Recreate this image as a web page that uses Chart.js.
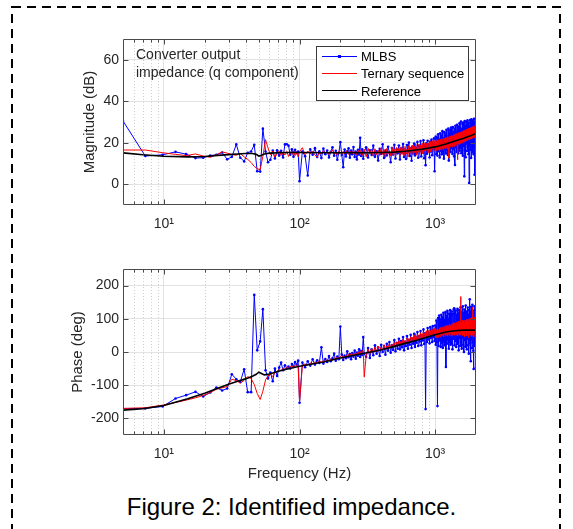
<!DOCTYPE html>
<html>
<head>
<meta charset="utf-8">
<script src="https://cdn.jsdelivr.net/npm/chart.js@4.4.1/dist/chart.umd.min.js"></script>
<style>
  html,body{margin:0;padding:0;background:#fff;}
  body{width:573px;height:529px;overflow:hidden;position:relative;font-family:"Liberation Sans",Arial,Helvetica,sans-serif;color:#262626;}
  canvas{position:absolute;left:0;}
  #frame{position:absolute;left:0;top:0;}
  #legend{position:absolute;left:316px;top:46px;width:151px;height:53px;border:1px solid #3a3a3a;background:#fff;}
  .lgLine{position:absolute;left:5px;width:35px;height:0;}
  .lgDot{position:absolute;width:3px;height:3px;background:#0000ff;}
  .lgText{position:absolute;left:44px;font-size:13px;line-height:17px;height:17px;white-space:nowrap;color:#000;}
  #note{position:absolute;left:136px;top:44.5px;font-size:14px;line-height:18.5px;color:#262626;white-space:nowrap;}
  #caption{position:absolute;left:0;width:583px;text-align:center;top:493px;font-size:24px;line-height:28px;color:#000;white-space:nowrap;}
</style>
</head>
<body>
<svg id="frame" width="573" height="529"><rect x="12" y="7" width="548" height="600" fill="none" stroke="#000" stroke-width="2" stroke-dasharray="9 6"/></svg>
<canvas id="cMag" width="573" height="245" style="top:0px"></canvas>
<canvas id="cPh" width="573" height="245" style="top:245px"></canvas>
<div id="legend"></div>
<div id="note"></div>
<div id="caption"></div>
<script>
// ---------------- DATA ----------------
const freq = [
  5, 7.3, 9.8, 12.2, 14.6, 17.1, 19.5, 22, 24.4, 26.9,
  29.3, 31.7, 34.2, 36.6, 39.1, 41.5, 44, 46.4, 48.8, 51.3,
  53.7, 56.2, 58.6, 61, 63.5, 65.9, 68.4, 70.8, 73.2, 75.7,
  78.1, 80.6, 83, 85.4, 87.9, 90.3, 92.8, 95.2, 97.7, 100.1,
  105, 110, 115, 120, 125, 130, 135, 140, 145, 150,
  155, 160, 165, 170, 175, 180, 185, 190, 195, 200,
  205, 210, 215, 220, 225, 230, 235, 240, 245, 250,
  255, 260, 265, 270, 275, 280, 285, 290, 295, 300,
  310, 320, 330, 340, 350, 360, 370, 380, 390, 400,
  410, 420, 430, 440, 450, 460, 470, 480, 490, 500,
  510, 520, 530, 540, 550, 560, 570, 580, 590, 600,
  610, 620, 630, 640, 650, 660, 670, 680, 690, 700,
  710, 720, 730, 740, 750, 760, 770, 780, 790, 800,
  810, 820, 830, 840, 850, 860, 870, 880, 890, 900,
  910, 920, 930, 940, 950, 960, 970, 980, 990, 1000,
  1010, 1020, 1030, 1040, 1050, 1060, 1070, 1080, 1090, 1100,
  1110, 1120, 1130, 1140, 1150, 1160, 1170, 1180, 1190, 1200,
  1210, 1220, 1230, 1240, 1250, 1260, 1270, 1280, 1290, 1300,
  1310, 1320, 1330, 1340, 1350, 1360, 1370, 1380, 1390, 1400,
  1410, 1420, 1430, 1440, 1450, 1460, 1470, 1480, 1490, 1500,
  1510, 1520, 1530, 1540, 1550, 1560, 1570, 1580, 1590, 1600,
  1610, 1620, 1630, 1640, 1650, 1660, 1670, 1680, 1690, 1700,
  1710, 1720, 1730, 1740, 1750, 1760, 1770, 1780, 1790, 1800,
  1810, 1820, 1830, 1840, 1850, 1860, 1870, 1880, 1890, 1900,
  1910, 1920, 1930, 1940, 1950, 1960, 1970, 1980, 1990, 2000
];

const mlbsMag = [
  30.5, 13.6, 14.2, 15.6, 14.5, 12.6, 12.8, 13.8, 14.2, 15.3,
  12.0, 13.2, 19.2, 12.8, 11.0, 15.2, 15.8, 19.0, 6.3, 6.1,
  26.8, 15.8, 10.6, 11.8, 16.2, 12.4, 16.4, 13.8, 16.1, 12.9,
  19.2, 19.3, 18.6, 14.2, 16.9, 13.2, 16.6, 15.1, 15.8, 1.5,
  15.8, 13.5, 4.2, 16.8, 14.2, 17.4, 13.1, 15.9, 12.6, 17.2,
  14.5, 16.3, 12.9, 15.6, 17.8, 13.7, 16.1, 11.8, 15.2, 20.3,
  14.1, 8.2, 16.7, 13.4, 15.9, 17.3, 12.8, 16.2, 14.4, 17.9,
  13.1, 15.7, 11.9, 16.6, 14.3, 22.4, 13.6, 16.8, 12.3, 15.5,
  17.8, 12.9, 16.4, 14.1, 18.6, 13.2, 15.9, 11.4, 17.1, 14.6,
  19.3, 12.7, 16.2, 13.9, 18.1, 15.0, 10.6, 17.5, 14.3, 19.0,
  12.4, 16.8, 14.9, 18.7, 11.9, 17.2, 15.3, 19.4, 13.1, 16.7,
  12.2, 18.9, 15.5, 20.1, 13.6, 17.4, 11.3, 18.2, 14.8, 19.6,
  13.9, 17.7, 15.2, 20.4, 12.8, 18.4, 16.0, 20.8, 13.4, 17.9,
  15.1, 21.2, 12.5, 18.6, 9.2, 19.7, 14.7, 21.0, 16.3, 19.1,
  12.9, 20.6, 15.8, 21.5, 14.0, 19.8, 16.9, 22.1, 6.3, 19.4,
  23.0, 14.6, 22.4, 13.8, 24.1, 15.9, 21.6, 12.9, 24.6, 16.2,
  23.5, 14.4, 25.6, 15.8, 22.2, 12.3, 25.1, 16.9, 23.9, 14.8,
  26.2, 16.8, 23.0, 14.1, 26.8, 11.4, 24.5, 16.1, 26.1, 15.5,
  27.3, 17.5, 24.1, 14.6, 27.6, 16.9, 25.3, 13.5, 26.9, 9.3,
  28.2, 18.0, 24.8, 15.6, 28.7, 17.2, 26.0, 14.9, 27.8, 18.4,
  29.4, 16.2, 27.1, 17.6, 30.2, 15.0, 26.5, 19.2, 29.1, 13.7,
  29.7, 18.6, 26.8, 3.8, 30.5, 16.4, 28.0, 13.0, 30.1, 19.5,
  27.4, 16.0, 30.8, 18.0, 28.6, 14.5, 29.7, 0.6, 27.8, 19.0,
  31.0, 16.6, 29.0, 12.7, 31.3, 19.8, 28.3, 15.4, 30.7, 20.5,
  29.5, 14.5, 31.5, 18.3, 4.6, 30.2, 21.0, 31.6, 16.4, 28.0
];

const ternMag = [
  16.5, 16.5, 15.2, 14.4, 13.8, 14.6, 13.6, 13.0, 14.2, 15.6,
  15.0, 14.3, 14.0, 14.8, 13.2, 12.0, 10.5, 8.6, 7.5, 7.0,
  13.5, 21.5, 17.5, 14.2, 15.9, 13.1, 14.7, 16.0, 13.9, 15.3,
  14.1, 15.8, 13.4, 15.5, 14.4, 16.1, 13.8, 15.0, 13.3, 15.6,
  17.6, 14.2, 16.0, 14.7, 15.9, 14.1, 13.0, 15.4, 14.6, 16.1,
  14.9, 15.6, 14.3, 15.8, 16.5, 14.8, 15.2, 14.0, 16.0, 15.3,
  14.5, 15.9, 14.7, 16.2, 15.0, 14.4, 16.1, 15.2, 14.6, 16.3,
  14.9, 15.7, 14.2, 16.4, 15.1, 14.5, 16.6, 13.9, 15.8, 16.9,
  13.2, 17.4, 14.6, 16.9, 13.5, 17.1, 14.2, 16.5, 13.8, 17.6,
  14.4, 16.8, 12.9, 17.3, 14.7, 16.2, 13.6, 18.0, 14.1, 16.9,
  13.4, 17.8, 15.0, 17.2, 13.7, 18.1, 14.3, 17.5, 13.9, 18.3,
  14.8, 17.0, 13.2, 18.6, 15.1, 17.7, 13.8, 18.9, 14.6, 18.2,
  15.3, 19.1, 14.0, 18.5, 15.6, 19.4, 14.4, 18.8, 15.9, 19.7,
  14.7, 19.2, 16.1, 20.0, 15.0, 19.6, 16.4, 20.3, 15.3, 19.9,
  16.7, 20.6, 15.6, 20.2, 17.0, 21.0, 15.9, 20.5, 17.3, 21.3,
  16.0, 20.8, 16.4, 21.2, 16.7, 21.5, 16.2, 21.3, 17.0, 21.7,
  16.6, 22.0, 17.1, 21.6, 16.9, 22.3, 17.5, 22.1, 17.2, 22.6,
  17.8, 22.4, 17.0, 23.0, 18.1, 12.6, 22.8, 18.3, 23.3, 17.9,
  23.1, 18.5, 23.6, 18.0, 23.2, 18.9, 24.0, 18.3, 23.8, 19.2,
  24.3, 18.7, 23.9, 19.5, 24.6, 11.8, 24.2, 19.8, 24.9, 19.1,
  24.5, 20.0, 25.1, 19.6, 24.8, 20.4, 25.5, 19.9, 25.0, 20.6,
  25.8, 20.2, 25.3, 21.0, 26.1, 20.5, 25.7, 21.2, 26.4, 20.8,
  25.9, 21.5, 26.7, 21.1, 26.2, 21.8, 27.0, 21.4, 26.6, 22.0,
  27.2, 21.7, 26.8, 22.3, 27.5, 21.9, 27.1, 22.6, 27.8, 22.2,
  27.3, 22.8, 28.0, 22.4, 27.6, 23.0, 28.3, 22.7, 27.9, 23.2
];

const mlbsPhase = [
  -170, -170, -164, -140, -130, -120, -134, -122, -107, -116,
  -110, -67, -82, -90, -52, -121, -121, 172, 5, 32,
  129, -55, -80, -62, -88, -50, -72, -47, -32, -55,
  -40, -48, -44, -50, -36, -42, -30, -38, -26, -153,
  -32, -46, -28, -41, -22, -38, -25, -33, 14, -35,
  -21, -30, -12, -28, -19, -5, -26, -14, -22, 77,
  -8, -24, -11, -19, 2, -16, -6, -22, -3, -14,
  4, -20, -2, -11, 8, -15, 3, -9, 45, -6,
  -15, 12, -18, 8, -10, 20, -5, 14, -12, 22,
  0, 18, -8, 25, 4, 30, -2, 21, 6, 36,
  2, 28, 10, 40, 8, 33, 14, 45, 5, 30,
  18, 48, 10, 37, 22, 52, 12, 41, 25, 55,
  15, 44, 28, 60, 18, 47, 32, 63, 20, 50,
  35, 68, 24, 56, -172, 45, 30, 72, 38, 58,
  26, 75, 42, 62, 30, 78, 45, 65, 33, 80,
  22, 95, 30, -163, 102, 18, 110, 35, 98, 15,
  112, 28, 104, 12, 118, 32, 96, 20, 120, -45,
  108, 25, 124, 38, 100, 10, 115, 30, 126, 22,
  110, 26, 122, 8, 114, 40, 128, 132, 20, 118,
  34, 125, 15, 112, 38, 130, 24, 116, 5, 127,
  42, 110, 18, 135, 30, 120, 10, 114, 44, 138,
  22, 118, 0, 128, 36, 108, 16, 140, 28, 122,
  8, 115, 40, 134, 20, 112, -5, 126, 35, 159,
  26, 120, -28, 136, 38, 106, 12, 142, 30, 116,
  4, -51, 124, 42, 138, 18, 112, -50, 130, 46
];

const ternPhase = [
  -170, -168, -160, -152, -145, -138, -131, -122, -112, -108,
  -104, -82, -86, -94, -85, -74, -80, -98, -125, -143,
  -118, -84, -72, -66, -74, -62, -58, -53, -56, -49,
  -52, -46, -48, -44, -45, -41, -43, -40, -42, -150,
  -40, -36, -41, -33, -36, -29, -34, -27, -31, -25,
  -30, -22, -27, -20, -25, -17, -22, -15, -20, -13,
  -19, -11, -17, -9, -15, -7, -13, -5, -11, -3,
  -10, -2, -8, 0, -7, 2, -6, 4, 3, -75,
  -12, 8, -6, 12, -2, 15, 1, 18, 4, 14,
  6, 22, 8, 18, 10, 26, 12, 24, 14, 28,
  15, 30, 18, 34, 20, 32, 22, 38, 24, 36,
  26, 42, 27, 40, 30, 46, 31, 44, 33, 50,
  34, 48, 36, 54, 38, 52, 40, 58, 41, 55,
  43, 60, 44, 58, 46, 64, 47, 62, 49, 66,
  50, 64, 51, 70, 53, 68, 54, 72, 56, 70,
  42, 66, 47, 70, 44, 68, 50, 72, 46, 74,
  48, 76, 52, 73, 47, 78, 55, 75, 50, 80,
  52, 78, 48, 82, 55, 77, 50, 84, 56, 79,
  49, 85, 54, 80, 51, 87, 56, 82, 50, 88,
  57, 84, 52, 90, 55, 86, 48, 92, 56, 85,
  50, 93, 56, 167, 52, 88, 58, 95, 49, 90,
  57, 94, 52, 89, 46, 96, 58, 91, 53, 98,
  49, 92, 59, 99, 53, 94, 44, 100, 57, 95,
  51, 102, 60, 96, 47, 104, 55, 97, 50, 135,
  58, 99, 45, 105, 56, 100, 50, 106, 59, 102
];

const refFreq  = [5, 7, 10, 15, 20, 25, 30, 35, 40, 45, 48, 50, 52, 55, 60, 70, 80, 100, 150, 200, 300, 400, 500, 600, 700, 800, 1000, 1200, 1400, 1600, 1800, 2000];
const refMag   = [15.1, 14.2, 13.5, 13.2, 13.4, 13.9, 14.3, 14.6, 14.8, 14.8, 14.4, 13.6, 13.9, 14.6, 15.0, 15.2, 15.3, 15.3, 15.2, 15.2, 15.2, 15.3, 15.5, 15.9, 16.4, 16.9, 18.0, 19.4, 20.8, 22.0, 23.2, 24.5];
const refPhase = [-175, -171, -161, -141, -124, -109, -97, -88, -81, -73, -67, -61, -64, -69, -66, -58, -52, -43, -30, -18, -4, 6, 17, 26, 33, 40, 52, 60, 64, 66, 66, 66];

const xTickValues = [10, 100, 1000];
const xTickLabels = ['10\u00B9', '10\u00B2', '10\u00B3'];
const xMinorGrid  = [6, 7, 8, 9, 20, 30, 40, 50, 60, 70, 80, 90, 200, 300, 400, 500, 600, 700, 800, 900];
const magTicks = [0, 20, 40, 60];
const magTickLabels = ['0', '20', '40', '60'];
const phaseTicks = [-200, -100, 0, 100, 200];
const phaseTickLabels = ['-200', '-100', '0', '100', '200'];
const legendLabels = ['MLBS', 'Ternary sequence', 'Reference'];
const seriesColors = ['#0000ff', '#ff0000', '#000000'];
const noteLines = ['Converter output', 'impedance (q component)'];
const captionText = 'Figure 2: Identified impedance.';

// ---------------- RENDER ----------------
Chart.defaults.font.family = '"Liberation Sans", Arial, Helvetica, sans-serif';
Chart.defaults.color = '#262626';

const matlabAxes = {
  id: 'matlabAxes',
  beforeDatasetsDraw(chart) {
    const ctx = chart.ctx, a = chart.chartArea, x = chart.scales.x;
    ctx.save();
    ctx.strokeStyle = '#cfcfcf';
    ctx.lineWidth = 1;
    ctx.setLineDash([1, 2]);
    for (const v of xMinorGrid) {
      const p = Math.round(x.getPixelForValue(v)) + 0.5;
      ctx.beginPath(); ctx.moveTo(p, a.top); ctx.lineTo(p, a.bottom); ctx.stroke();
    }
    ctx.restore();
  },
  afterDatasetsDraw(chart) {
    const ctx = chart.ctx, a = chart.chartArea, x = chart.scales.x, y = chart.scales.y;
    const L = Math.round(a.left) + 0.5, R = Math.round(a.right) - 0.5;
    const T = Math.round(a.top) + 0.5, B = Math.round(a.bottom) - 0.5;
    ctx.save();
    ctx.strokeStyle = '#4a4a4a';
    ctx.lineWidth = 1;
    ctx.beginPath();
    ctx.rect(L, T, R - L, B - T);
    for (const v of xTickValues) {
      const p = Math.round(x.getPixelForValue(v)) + 0.5;
      ctx.moveTo(p, B); ctx.lineTo(p, B - 5);
      ctx.moveTo(p, T); ctx.lineTo(p, T + 5);
    }
    for (const v of xMinorGrid) {
      const p = Math.round(x.getPixelForValue(v)) + 0.5;
      ctx.moveTo(p, B); ctx.lineTo(p, B - 3);
      ctx.moveTo(p, T); ctx.lineTo(p, T + 3);
    }
    for (const t of y.ticks) {
      const q = Math.round(y.getPixelForValue(t.value)) + 0.5;
      ctx.moveTo(L, q); ctx.lineTo(L + 5, q);
      ctx.moveTo(R, q); ctx.lineTo(R - 5, q);
    }
    ctx.stroke();
    ctx.restore();
  }
};

function pts(xs, ys) { return xs.map((v, i) => ({ x: v, y: ys[i] })); }

function build(id, cfg) {
  return new Chart(document.getElementById(id), {
    type: 'line',
    data: {
      datasets: [
        { label: legendLabels[0], data: pts(freq, cfg.mlbs), borderColor: seriesColors[0], backgroundColor: seriesColors[0],
          borderWidth: 1, pointRadius: 1.3, pointHoverRadius: 0, pointBorderWidth: 0, pointBackgroundColor: seriesColors[0], order: 3 },
        { label: legendLabels[1], data: pts(freq, cfg.tern), borderColor: seriesColors[1], borderWidth: 1, pointRadius: 0, order: 2 },
        { label: legendLabels[2], data: pts(refFreq, cfg.ref), borderColor: seriesColors[2], borderWidth: 1.6, pointRadius: 0, order: 1 }
      ]
    },
    options: {
      responsive: false,
      animation: false,
      events: [],
      layout: { padding: { top: cfg.padTop, right: 97, left: 0, bottom: 0 } },
      plugins: { legend: { display: false }, tooltip: { enabled: false } },
      elements: { line: { tension: 0 } },
      scales: {
        x: {
          type: 'logarithmic', min: 5, max: 2000,
          afterBuildTicks: s => { s.ticks = xTickValues.map(v => ({ value: v })); },
          afterFit: s => { s.height = cfg.xHeight; },
          ticks: { autoSkip: false, maxRotation: 0, minRotation: 0, padding: 11, font: { size: 14 }, color: '#262626',
                   callback: (v, i) => xTickLabels[i] },
          grid: { color: '#e2e2e2', drawTicks: false },
          border: { display: false },
          title: cfg.xTitle ? { display: true, text: cfg.xTitle, font: { size: 15 }, color: '#262626', padding: { top: 0, bottom: 7 } }
                            : { display: false }
        },
        y: {
          type: 'linear', min: cfg.yMin, max: cfg.yMax,
          afterBuildTicks: s => { s.ticks = cfg.yTicks.map(v => ({ value: v })); },
          afterFit: s => { s.width = 123; },
          ticks: { padding: 4, font: { size: 14 }, color: '#262626', callback: (v, i) => cfg.yTickLabels[i] },
          grid: { color: '#e2e2e2', drawTicks: false },
          border: { display: false },
          title: { display: true, text: cfg.yTitle, font: { size: 15 }, color: '#262626', padding: { top: cfg.yTitlePad, bottom: 0 } }
        }
      }
    },
    plugins: [matlabAxes]
  });
}

build('cMag', { mlbs: mlbsMag, tern: ternMag, ref: refMag, padTop: 39, xHeight: 40, yMin: -10, yMax: 70,
  yTicks: magTicks, yTickLabels: magTickLabels, yTitle: 'Magnitude (dB)', yTitlePad: 81, xTitle: null });
build('cPh', { mlbs: mlbsPhase, tern: ternPhase, ref: refPhase, padTop: 24, xHeight: 55, yMin: -250, yMax: 250,
  yTicks: phaseTicks, yTickLabels: phaseTickLabels, yTitle: 'Phase (deg)', yTitlePad: 69, xTitle: 'Frequency (Hz)' });

// legend
const lg = document.getElementById('legend');
const rowY = [9, 26.5, 44];
const lineW = [1, 1, 1.6];
legendLabels.forEach((t, i) => {
  const ln = document.createElement('div');
  ln.className = 'lgLine';
  ln.style.top = (rowY[i] - lineW[i] / 2) + 'px';
  ln.style.borderTop = lineW[i] + 'px solid ' + seriesColors[i];
  lg.appendChild(ln);
  if (i === 0) {
    const d = document.createElement('div');
    d.className = 'lgDot';
    d.style.left = '21px';
    d.style.top = (rowY[i] - 1.5) + 'px';
    lg.appendChild(d);
  }
  const tx = document.createElement('div');
  tx.className = 'lgText';
  tx.style.top = (rowY[i] - 8.5) + 'px';
  tx.textContent = t;
  lg.appendChild(tx);
});
document.getElementById('note').innerHTML = noteLines.join('<br>');
document.getElementById('caption').textContent = captionText;
</script>
</body>
</html>
